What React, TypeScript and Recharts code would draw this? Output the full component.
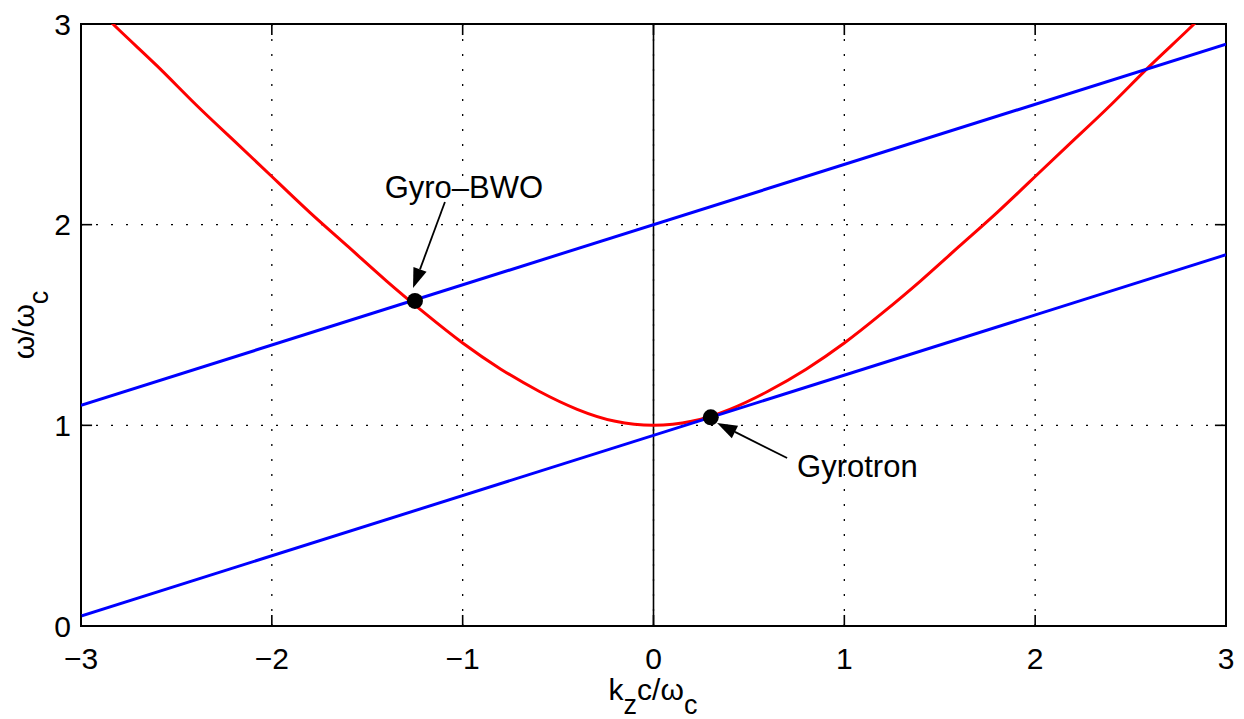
import { CartesianGrid, ComposedChart, Line, ReferenceArea, ReferenceLine, Scatter, XAxis, YAxis } from "recharts"

const curveK = [-3, -2.8, -2.6, -2.4, -2.2, -2, -1.8, -1.6, -1.4, -1.2, -1, -0.8, -0.6, -0.4, -0.2, 0, 0.2, 0.4, 0.6, 0.8, 1, 1.2, 1.4, 1.6, 1.8, 2, 2.2, 2.4, 2.6, 2.8, 3]
const curveOmega = [3.16, 2.97, 2.79, 2.6, 2.42, 2.24, 2.06, 1.89, 1.72, 1.56, 1.41, 1.28, 1.17, 1.08, 1.02, 1.0, 1.02, 1.08, 1.17, 1.28, 1.41, 1.56, 1.72, 1.89, 2.06, 2.24, 2.42, 2.6, 2.79, 2.97, 3.16]

const lineK = [-3, 3]
const upperLineOmega = [1.1, 2.9]
const lowerLineOmega = [0.05, 1.85]

const pointK = [-1.25, 0.3]
const pointOmega = [1.62, 1.04]

const xTicks = [-3, -2, -1, 0, 1, 2, 3]
const yTicks = [0, 1, 2, 3]

const curveData = curveK.map((k, i) => ({ k, w: curveOmega[i] }))
const upperData = lineK.map((k, i) => ({ k, w: upperLineOmega[i] }))
const lowerData = lineK.map((k, i) => ({ k, w: lowerLineOmega[i] }))
const pointData = pointK.map((k, i) => ({ k, w: pointOmega[i] }))

const font = "'Liberation Sans', Arial, Helvetica, sans-serif"
const tickLenX = 0.058
const tickLenY = 0.055

function arrowShape(text: string, dx: number, dy: number, anchor: "start" | "middle") {
  return (props: any) => {
    const { x1, y1, x2, y2 } = props
    const ang = Math.atan2(y2 - y1, x2 - x1)
    const len = 20
    const half = 7
    const bx = x2 - len * Math.cos(ang)
    const by = y2 - len * Math.sin(ang)
    const px = -Math.sin(ang) * half
    const py = Math.cos(ang) * half
    return (
      <g>
        <line x1={x1} y1={y1} x2={bx} y2={by} stroke="#000" strokeWidth={1.8} />
        <polygon points={`${x2},${y2} ${bx + px},${by + py} ${bx - px},${by - py}`} fill="#000" />
        <text x={x1 + dx} y={y1 + dy} textAnchor={anchor} fontSize={31} fontFamily={font} fill="#000">
          {text}
        </text>
      </g>
    )
  }
}

const fmt = (v: number) => String(v).replace("-", "\u2212")

export default function App() {
  return (
    <div style={{ position: "absolute", left: 0, top: 0, background: "#fff" }}>
      <ComposedChart
        width={1244}
        height={719}
        margin={{ top: 24, right: 18, left: 0, bottom: 0 }}
        style={{ fontFamily: font }}
      >
        <CartesianGrid stroke="#000" strokeWidth={1.3} strokeDasharray="2 13" />
        <XAxis
          type="number"
          dataKey="k"
          domain={[-3, 3]}
          ticks={xTicks}
          allowDataOverflow
          axisLine={false}
          tickLine={false}
          tickSize={0}
          tickMargin={22}
          height={93}
          tickFormatter={fmt}
          tick={{ fontSize: 30, fill: "#000", fontFamily: font }}
          label={() => (
            <text x={653} y={700} textAnchor="middle" fontSize={30} fontFamily={font} fill="#000">
              k<tspan dy={14} fontSize={27}>z</tspan>
              <tspan dy={-14}>c/ω</tspan>
              <tspan dy={14} fontSize={27}>c</tspan>
            </text>
          )}
        />
        <YAxis
          type="number"
          dataKey="w"
          domain={[0, 3]}
          ticks={yTicks}
          allowDataOverflow
          axisLine={false}
          tickLine={false}
          tickSize={0}
          tickMargin={10}
          width={81}
          tick={{ fontSize: 30, fill: "#000", fontFamily: font }}
          label={() => (
            <text
              x={34}
              y={325}
              transform="rotate(-90, 34, 325)"
              textAnchor="middle"
              fontSize={30}
              fontFamily={font}
              fill="#000"
            >
              ω/ω<tspan dy={14} fontSize={27}>c</tspan>
            </text>
          )}
        />
        <ReferenceLine x={0} stroke="#000" strokeWidth={1.6} />
        <Line data={curveData} dataKey="w" type="natural" stroke="#ff0000" strokeWidth={3} dot={false} activeDot={false} isAnimationActive={false} />
        <Line data={upperData} dataKey="w" type="linear" stroke="#0000ff" strokeWidth={3} dot={false} activeDot={false} isAnimationActive={false} />
        <Line data={lowerData} dataKey="w" type="linear" stroke="#0000ff" strokeWidth={3} dot={false} activeDot={false} isAnimationActive={false} />
        <Scatter
          data={pointData}
          dataKey="w"
          isAnimationActive={false}
          shape={(p: any) => <circle cx={p.cx} cy={p.cy} r={8} fill="#000" />}
        />
        <ReferenceLine
          segment={[{ x: -1.093, y: 2.113 }, { x: -1.26, y: 1.684 }]}
          shape={arrowShape("Gyro\u2013BWO", 19, -4, "middle")}
        />
        <ReferenceLine
          segment={[{ x: 0.7, y: 0.837 }, { x: 0.333, y: 1.012 }]}
          shape={arrowShape("Gyrotron", 10, 19, "start")}
        />
        {xTicks.map((t) => (
          <ReferenceLine key={`xb${t}`} segment={[{ x: t, y: 0 }, { x: t, y: tickLenY }]} stroke="#000" strokeWidth={1.6} />
        ))}
        {xTicks.map((t) => (
          <ReferenceLine key={`xt${t}`} segment={[{ x: t, y: 3 }, { x: t, y: 3 - tickLenY }]} stroke="#000" strokeWidth={1.6} />
        ))}
        {yTicks.map((t) => (
          <ReferenceLine key={`yl${t}`} segment={[{ x: -3, y: t }, { x: -3 + tickLenX, y: t }]} stroke="#000" strokeWidth={1.6} />
        ))}
        {yTicks.map((t) => (
          <ReferenceLine key={`yr${t}`} segment={[{ x: 3, y: t }, { x: 3 - tickLenX, y: t }]} stroke="#000" strokeWidth={1.6} />
        ))}
        <ReferenceArea x1={-3} x2={3} y1={0} y2={3} fill="none" fillOpacity={0} stroke="#000" strokeWidth={2} />
      </ComposedChart>
    </div>
  )
}
